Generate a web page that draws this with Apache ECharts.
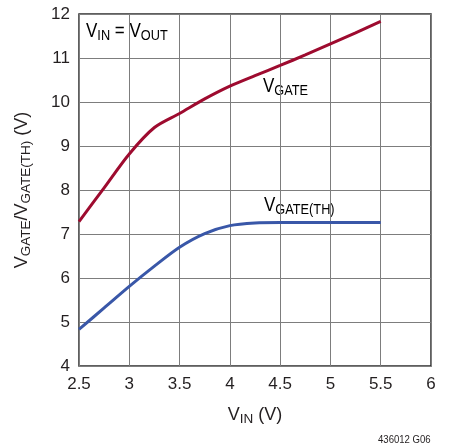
<!DOCTYPE html>
<html>
<head>
<meta charset="utf-8">
<script src="https://cdn.jsdelivr.net/npm/echarts@6/dist/echarts.min.js"></script>
<style>
html, body { margin: 0; padding: 0; background: #fff; }
#chart { width: 449px; height: 447px; }
</style>
</head>
<body>
<div id="chart"></div>
<script>
// VIN (V) sample points
var vin = [2.5, 2.75, 3.0, 3.25, 3.5, 3.75, 4.0, 4.25, 4.5, 4.75, 5.0, 5.25, 5.5];
var vGate = [7.28, 8.05, 8.82, 9.42, 9.74, 10.07, 10.36, 10.6, 10.83, 11.07, 11.32, 11.57, 11.83];
var vGateTh = [4.83, 5.32, 5.81, 6.27, 6.70, 7.01, 7.19, 7.25, 7.26, 7.26, 7.26, 7.26, 7.26];
var xTicks = [2.5, 3, 3.5, 4, 4.5, 5, 5.5, 6];
var yTicks = [4, 5, 6, 7, 8, 9, 10, 11, 12];

var FONT = '"Liberation Sans Narrow", "Liberation Sans", Arial, sans-serif';
var txt = "#231f20";

var rich = {
    v: { fontFamily: FONT, fontSize: 20, color: txt },
    s: { fontFamily: FONT, fontSize: 15, color: txt, padding: [9, 0, 0, 0] }
};
var richAxis = {
    v: { fontFamily: FONT, fontSize: 18, color: txt },
    s: { fontFamily: FONT, fontSize: 13.5, color: txt, padding: [8, 0, 0, 0] }
};

function pairs(ys) {
    return vin.map(function(x, i) { return [x, ys[i]]; });
}

var chart = echarts.init(document.getElementById("chart"), null, { renderer: "canvas" });

chart.setOption({
    animation: false,
    backgroundColor: "#fff",
    grid: { left: 79, right: 18, top: 14, bottom: 81, show: true, borderColor: "#2b2b2b", borderWidth: 1.5 },
    xAxis: {
        type: "value",
        min: xTicks[0],
        max: xTicks[xTicks.length - 1],
        interval: 0.5,
        name: "{v|V}{s|IN}{v| (V)}",
        nameLocation: "middle",
        nameGap: 38,
        nameTextStyle: { rich: richAxis },
        axisLine: { show: false },
        axisTick: { show: false },
        axisLabel: { fontFamily: FONT, fontSize: 17, color: txt, margin: 10 },
        splitLine: { show: true, lineStyle: { color: "#7d7d7d", width: 1 } }
    },
    yAxis: {
        type: "value",
        min: yTicks[0],
        max: yTicks[yTicks.length - 1],
        interval: 1,
        name: "{v|V}{s|GATE}{v|/V}{s|GATE(TH)}{v| (V)}",
        nameLocation: "middle",
        nameGap: 46,
        nameTextStyle: { rich: richAxis },
        axisLine: { show: false },
        axisTick: { show: false },
        axisLabel: { fontFamily: FONT, fontSize: 17, color: txt, margin: 9 },
        splitLine: { show: true, lineStyle: { color: "#7d7d7d", width: 1 } }
    },
    series: [
        {
            name: "VGATE",
            type: "line",
            data: pairs(vGate),
            smooth: 0.3,
            symbol: "none",
            lineStyle: { color: "#9e0b2f", width: 3 }
        },
        {
            name: "VGATE(TH)",
            type: "line",
            data: pairs(vGateTh),
            smooth: 0.3,
            symbol: "none",
            lineStyle: { color: "#3957a8", width: 3 }
        }
    ],
    graphic: [
        {
            type: "text",
            left: 86,
            top: 21,
            scaleX: 0.85,
            style: { text: "{v|V}{s|IN}{v| = V}{s|OUT}", rich: rich }
        },
        {
            type: "text",
            left: 263,
            top: 76,
            scaleX: 0.85,
            style: { text: "{v|V}{s|GATE}", rich: rich }
        },
        {
            type: "text",
            left: 264,
            top: 195,
            scaleX: 0.85,
            style: { text: "{v|V}{s|GATE(TH)}", rich: rich }
        },
        {
            type: "text",
            left: 378,
            top: 434,
            scaleX: 0.87,
            style: { text: "436012 G06", fontFamily: FONT, fontSize: 11, fill: txt }
        }
    ]
});
</script>
</body>
</html>
